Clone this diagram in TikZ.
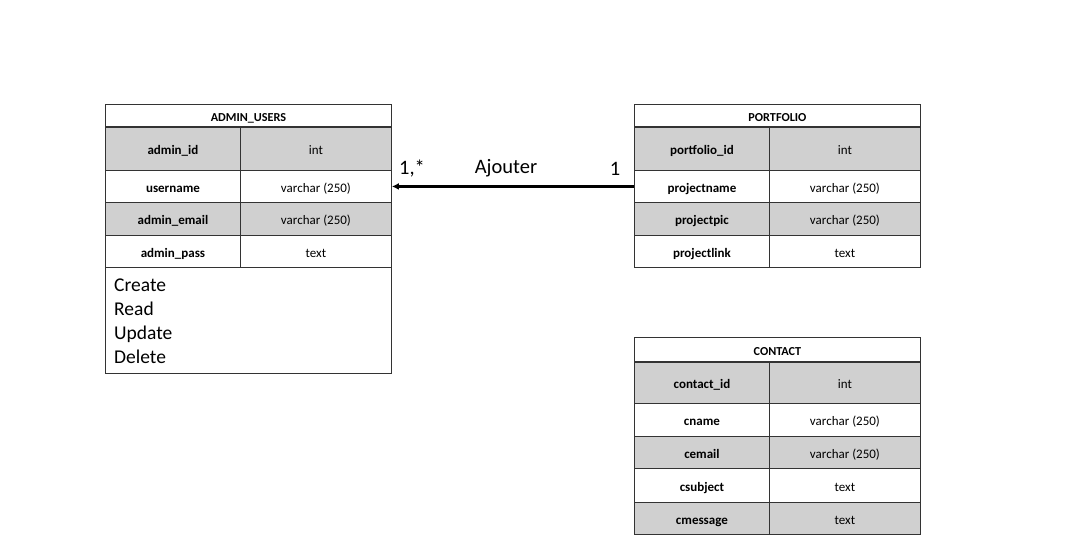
\documentclass[tikz,border=0pt]{standalone}
\usepackage{fontspec}
\setmainfont{Carlito}
\usetikzlibrary{arrows.meta}
\definecolor{rowgray}{HTML}{D0D0D0}
\definecolor{edge}{HTML}{333333}
\tikzset{
  cellbase/.style={draw=edge, line width=0.9pt, anchor=north west, inner sep=0pt,
    text height=12pt, text depth=0pt, font=\fontsize{13}{15}\selectfont},
  keycol/.style={cellbase, minimum width=135pt, font=\fontsize{13}{15}\selectfont\bfseries},
  typecol/.style={cellbase, minimum width=151pt},
  shaded/.style={fill=rowgray},
  plain/.style={fill=white},
  titlecell/.style={draw=edge, line width=0.9pt, anchor=north west, inner sep=0pt,
    text height=13pt, text depth=0pt,
    minimum width=286pt, minimum height=22pt, font=\fontsize{12.2}{14}\selectfont\bfseries},
  lbl/.style={font=\fontsize{20.5}{24}\selectfont, inner sep=0pt},
}
\begin{document}
\begin{tikzpicture}[x=1pt, y=-1pt]
\useasboundingbox (0,0) rectangle (1087,557);
\fill[white] (0,0) rectangle (1087,557);

% ADMIN_USERS table
\node[titlecell] (au-title) at (105,104) {ADMIN\_USERS};
\node[keycol, shaded, minimum height=44pt] (au-k1) at (105,126) {admin\_id};
\node[typecol, shaded, minimum height=44pt] (au-t1) at (240,126) {int};
\node[keycol, plain, minimum height=32pt] (au-k2) at (105,170) {username};
\node[typecol, plain, minimum height=32pt] (au-t2) at (240,170) {varchar (250)};
\node[keycol, shaded, minimum height=33pt] (au-k3) at (105,202) {admin\_email};
\node[typecol, shaded, minimum height=33pt] (au-t3) at (240,202) {varchar (250)};
\node[keycol, plain, minimum height=32pt] (au-k4) at (105,235) {admin\_pass};
\node[typecol, plain, minimum height=32pt] (au-t4) at (240,235) {text};
\node[draw=edge, line width=0.9pt, anchor=north west, minimum width=286pt, minimum height=106pt, inner sep=0pt] (au-ops) at (105,267) {};
\node[anchor=north west, align=left, inner sep=0pt, font=\fontsize{19.5}{24}\selectfont] (au-ops-text) at (114,279) {Create\\Read\\Update\\Delete};
\draw[edge, line width=2pt] (au-title.south west) -- (au-title.south east);

% PORTFOLIO table
\node[titlecell] (pf-title) at (634,104) {PORTFOLIO};
\node[keycol, shaded, minimum height=44pt] (pf-k1) at (634,126) {portfolio\_id};
\node[typecol, shaded, minimum height=44pt] (pf-t1) at (769,126) {int};
\node[keycol, plain, minimum height=32pt] (pf-k2) at (634,170) {projectname};
\node[typecol, plain, minimum height=32pt] (pf-t2) at (769,170) {varchar (250)};
\node[keycol, shaded, minimum height=33pt] (pf-k3) at (634,202) {projectpic};
\node[typecol, shaded, minimum height=33pt] (pf-t3) at (769,202) {varchar (250)};
\node[keycol, plain, minimum height=32pt] (pf-k4) at (634,235) {projectlink};
\node[typecol, plain, minimum height=32pt] (pf-t4) at (769,235) {text};
\draw[edge, line width=2pt] (pf-title.south west) -- (pf-title.south east);

% CONTACT table
\node[titlecell, minimum height=24pt] (ct-title) at (634,337) {CONTACT};
\node[keycol, shaded, minimum height=42pt] (ct-k1) at (634,361) {contact\_id};
\node[typecol, shaded, minimum height=42pt] (ct-t1) at (769,361) {int};
\node[keycol, plain, minimum height=33pt] (ct-k2) at (634,403) {cname};
\node[typecol, plain, minimum height=33pt] (ct-t2) at (769,403) {varchar (250)};
\node[keycol, shaded, minimum height=32pt] (ct-k3) at (634,436) {cemail};
\node[typecol, shaded, minimum height=32pt] (ct-t3) at (769,436) {varchar (250)};
\node[keycol, plain, minimum height=34pt] (ct-k4) at (634,468) {csubject};
\node[typecol, plain, minimum height=34pt] (ct-t4) at (769,468) {text};
\node[keycol, shaded, minimum height=32pt] (ct-k5) at (634,502) {cmessage};
\node[typecol, shaded, minimum height=32pt] (ct-t5) at (769,502) {text};
\draw[edge, line width=2pt] (ct-title.south west) -- (ct-title.south east);

% association PORTFOLIO -> ADMIN_USERS
\draw[black, line width=2.2pt, -{Latex[length=7pt, width=7pt]}] (pf-k2.west) -- (au-t2.east);
\node[lbl, anchor=west] (mult-admin) at (399,168.5) {1,*};
\node[lbl] (assoc-name) at (506,168.5) {Ajouter};
\node[lbl] (mult-pf) at (615,168.5) {1};
\end{tikzpicture}
\end{document}
